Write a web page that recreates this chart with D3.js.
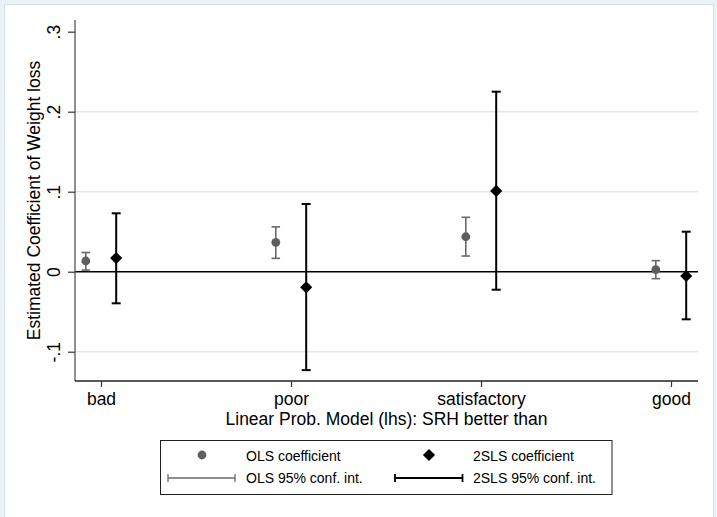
<!DOCTYPE html>
<html>
<head>
<meta charset="utf-8">
<script src="https://cdn.jsdelivr.net/npm/d3@7"></script>
<style>
  html, body { margin: 0; padding: 0; background: #eaf2f3; }
  svg { display: block; font-family: "Liberation Sans", Arial, sans-serif; }
</style>
</head>
<body>
<svg id="chart" width="717" height="517"></svg>
<script>
// ---- data ----
const categories = ["bad", "poor", "satisfactory", "good"];
const olsCoef = [0.0134, 0.0367, 0.0437, 0.0025];
const olsLo   = [0.0020, 0.0167, 0.0196, -0.0087];
const olsHi   = [0.0240, 0.0560, 0.0680, 0.0138];
const tslsCoef = [0.0170, -0.0195, 0.1010, -0.0054];
const tslsLo   = [-0.0395, -0.1230, -0.0225, -0.0595];
const tslsHi   = [0.0730, 0.0846, 0.2250, 0.0500];
const yTicks = [-0.1, 0, 0.1, 0.2, 0.3];
const yTickLabels = ["-.1", "0", ".1", ".2", ".3"];
const legendLabels = ["OLS coefficient", "2SLS coefficient", "OLS 95% conf. int.", "2SLS 95% conf. int."];
const xTitle = "Linear Prob. Model (lhs): SRH better than";
const yTitle = "Estimated Coefficient of Weight loss";

// ---- layout ----
const svg = d3.select("#chart");
const L = 75, R = 698, T = 20, B = 381;
const x = d3.scaleLinear().domain([0.8632, 4.1421]).range([L, R]);
const y = d3.scaleLinear().domain([-0.1366, 0.3146]).range([B, T]);
const off = 0.08;
const olsCol = "#5e5e5e", olsLineCol = "#6a6a6a";
const tslsCol = "#000000";
const fontAxis = "17.5px";

// background panel
svg.append("rect").attr("x", 0).attr("y", 0).attr("width", 717).attr("height", 517).attr("fill", "#eaf2f3");
svg.append("rect").attr("x", 4.5).attr("y", 4.5).attr("width", 709).attr("height", 520)
  .attr("fill", "#ffffff").attr("stroke", "#d6e3e6").attr("stroke-width", 1);

// gridlines (not at top edge tick)
svg.append("g").selectAll("line").data(yTicks.filter(v => v !== 0 && v < 0.29)).join("line")
  .attr("x1", L).attr("x2", R).attr("y1", d => y(d)).attr("y2", d => y(d))
  .attr("stroke", "#dce9ec").attr("stroke-width", 1.5);

// zero line
svg.append("line").attr("x1", L).attr("x2", R).attr("y1", y(0)).attr("y2", y(0))
  .attr("stroke", "#000").attr("stroke-width", 1.6);

// y axis
const yAxis = d3.axisLeft(y).tickValues(yTicks).tickSize(7).tickFormat((d, i) => yTickLabels[i]);
const gy = svg.append("g").attr("transform", `translate(${L},0)`).call(yAxis);
gy.select(".domain").attr("stroke", "#555").attr("stroke-width", 1.3).attr("d", `M0,${T}V${B}`);
gy.selectAll(".tick line").attr("stroke", "#333").attr("stroke-width", 1.2);
gy.selectAll(".tick text")
  .attr("font-size", fontAxis).attr("fill", "#000").attr("font-family", "Liberation Sans, Arial, sans-serif")
  .attr("x", null).attr("dy", null).attr("text-anchor", "middle")
  .attr("transform", "translate(-15.5,0) rotate(-90)")
  .attr("y", 0);

// x axis
const xAxis = d3.axisBottom(x).tickValues([1, 2, 3, 4]).tickSize(6).tickFormat((d) => categories[d - 1]);
const gx = svg.append("g").attr("transform", `translate(0,${B})`).call(xAxis);
gx.select(".domain").attr("stroke", "#222").attr("stroke-width", 1.3).attr("d", `M${L},0H${R}`);
gx.selectAll(".tick line").attr("stroke", "#333").attr("stroke-width", 1.2);
gx.selectAll(".tick text").attr("font-size", fontAxis).attr("fill", "#000")
  .attr("font-family", "Liberation Sans, Arial, sans-serif").attr("dy", null).attr("y", 24);

// axis titles
svg.append("text").attr("x", (L + R) / 2).attr("y", 425).attr("text-anchor", "middle")
  .attr("font-size", fontAxis).text(xTitle);
svg.append("text").attr("transform", `translate(40,${(T + B) / 2}) rotate(-90)`).attr("text-anchor", "middle")
  .attr("font-size", fontAxis).text(yTitle);

// error bars helper
function errBars(g, xs, lo, hi, color, width, cap) {
  const idx = d3.range(xs.length);
  g.selectAll("line.v").data(idx).join("line").attr("class", "v")
    .attr("x1", i => x(xs[i])).attr("x2", i => x(xs[i]))
    .attr("y1", i => y(lo[i])).attr("y2", i => y(hi[i]))
    .attr("stroke", color).attr("stroke-width", width);
  g.selectAll("line.top").data(idx).join("line").attr("class", "top")
    .attr("x1", i => x(xs[i]) - cap).attr("x2", i => x(xs[i]) + cap)
    .attr("y1", i => y(hi[i])).attr("y2", i => y(hi[i]))
    .attr("stroke", color).attr("stroke-width", width);
  g.selectAll("line.bot").data(idx).join("line").attr("class", "bot")
    .attr("x1", i => x(xs[i]) - cap).attr("x2", i => x(xs[i]) + cap)
    .attr("y1", i => y(lo[i])).attr("y2", i => y(lo[i]))
    .attr("stroke", color).attr("stroke-width", width);
}

const olsX = categories.map((c, i) => i + 1 - off);
const tslsX = categories.map((c, i) => i + 1 + off);

errBars(svg.append("g"), olsX, olsLo, olsHi, olsLineCol, 1.6, 4.3);
errBars(svg.append("g"), tslsX, tslsLo, tslsHi, tslsCol, 2, 4.5);

const circle = d3.symbol().type(d3.symbolCircle).size(Math.PI * 4.4 * 4.4);
const diamond = d3.symbol().type(d3.symbolSquare).size(74);

svg.append("g").selectAll("path").data(olsCoef).join("path")
  .attr("d", circle()).attr("fill", olsCol)
  .attr("transform", (d, i) => `translate(${x(olsX[i])},${y(d)})`);
svg.append("g").selectAll("path").data(tslsCoef).join("path")
  .attr("d", diamond()).attr("fill", tslsCol)
  .attr("transform", (d, i) => `translate(${x(tslsX[i])},${y(d)}) rotate(45)`);

// legend
const lg = svg.append("g");
lg.append("rect").attr("x", 160.5).attr("y", 440.5).attr("width", 451.5).attr("height", 54)
  .attr("fill", "#fff").attr("stroke", "#222").attr("stroke-width", 1);
const row1 = 455, row2 = 478;
lg.append("path").attr("d", circle()).attr("fill", olsCol).attr("transform", `translate(202,${row1})`);
lg.append("path").attr("d", diamond()).attr("fill", tslsCol).attr("transform", `translate(429,${row1}) rotate(45)`);
function legLine(x1, x2, yy, col, w) {
  lg.append("line").attr("x1", x1).attr("x2", x2).attr("y1", yy).attr("y2", yy).attr("stroke", col).attr("stroke-width", w);
  lg.append("line").attr("x1", x1).attr("x2", x1).attr("y1", yy - 4).attr("y2", yy + 4).attr("stroke", col).attr("stroke-width", w);
  lg.append("line").attr("x1", x2).attr("x2", x2).attr("y1", yy - 4).attr("y2", yy + 4).attr("stroke", col).attr("stroke-width", w);
}
legLine(168, 235, row2, olsLineCol, 1.3);
legLine(395, 462.5, row2, tslsCol, 1.8);
const legX = [246, 473, 246, 473];
const legY = [row1 + 6, row1 + 6, row2 + 5, row2 + 5];
lg.selectAll("text").data(legendLabels).join("text")
  .attr("x", (d, i) => legX[i]).attr("y", (d, i) => legY[i])
  .attr("font-size", "14px").attr("fill", "#000").text(d => d);
</script>
</body>
</html>
